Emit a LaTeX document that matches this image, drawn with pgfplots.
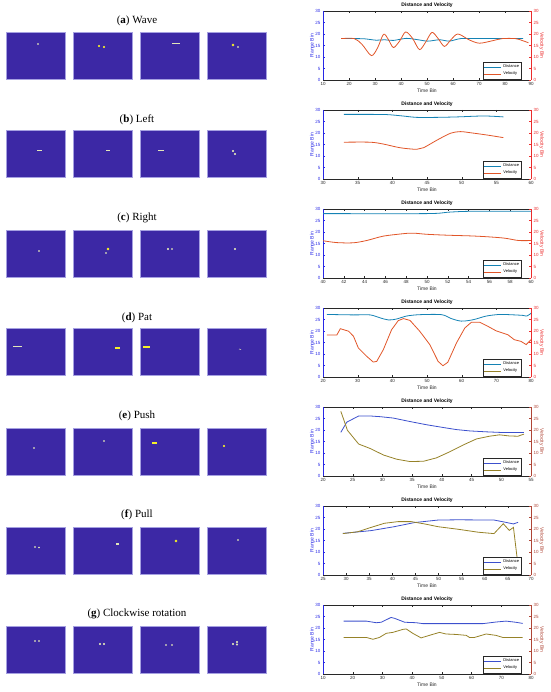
\documentclass[border=0pt]{standalone}
\usepackage{fontspec}
\setmainfont{Liberation Sans}
\newfontfamily\capfont{Liberation Serif}
\usepackage{pgfplots}
\pgfplotsset{compat=1.18}

\definecolor{parula}{RGB}{60,40,165}
\definecolor{frame}{RGB}{165,160,225}
\definecolor{spotY}{RGB}{245,240,40}
\definecolor{spotP}{RGB}{225,230,185}
\definecolor{leftcol}{RGB}{40,40,230}
\definecolor{redcol}{RGB}{235,45,45}
\definecolor{darkred}{RGB}{175,70,55}
\definecolor{distA}{RGB}{20,130,180}
\definecolor{velA}{RGB}{225,85,40}
\definecolor{distB}{RGB}{60,80,205}
\definecolor{velB}{RGB}{150,130,40}
\definecolor{axgray}{RGB}{40,40,40}

\pgfplotsset{
  heatax/.style={scale only axis, width=59pt, height=47pt, anchor=north west,
    xmin=0, xmax=59, ymin=0, ymax=47, y dir=reverse,
    xtick=\empty, ytick=\empty,
    axis background/.style={fill=parula},
    axis line style={draw=frame, line width=0.6pt}},
  big/.style={only marks, mark=*, mark size=1.2pt, color=spotY},
  dot/.style={only marks, mark=*, mark size=0.6pt, color=spotP},
  dash/.style={no marks, line width=1pt, color=spotP},
  base/.style={scale only axis, width=208pt, height=69pt, anchor=south west,
    ymin=0, ymax=30, ytick={0,5,...,30}, xtick distance=#1,
    tick align=inside, major tick length=2pt,
    /pgf/number format/assume math mode=true,
    ticklabel style={font=\fontsize{4.5}{5}\selectfont},
    label style={font=\fontsize{5}{6}\selectfont},
    axis line style={line width=0.3pt},
    every tick/.style={line width=0.3pt},
    x axis line style={axgray}, xtick style={axgray},
    xticklabel style={text=axgray, yshift=1pt}},
  leftax/.style={base=#1, axis y line*=left,
    xlabel={Time Bin}, ylabel={Range Bin},
    xlabel style={yshift=4pt, text=axgray},
    ylabel style={yshift=-6pt, text=leftcol},
    y axis line style={leftcol}, ytick style={leftcol},
    yticklabel style={text=leftcol, xshift=1pt},
    title={\textbf{Distance and Velocity}},
    title style={font=\fontsize{5}{6}\selectfont, yshift=-6.5pt}},
  rightax/.style={base=#1, axis y line*=right, axis x line=none,
    ylabel={Velocity Bin},
    legend style={at={(0.955,0.015)}, anchor=south east,
      font=\fontsize{4}{4.5}\selectfont, inner sep=0.5pt,
      row sep=-1.5pt, draw=axgray, line width=0.3pt},
    legend cell align=left},
  rcol/.style={y axis line style={#1}, ytick style={#1},
    yticklabel style={text=#1, xshift=-1pt},
    ylabel style={text=#1, rotate=180, yshift=-6pt}},
}

\newcommand{\heat}[3]{%
  \begin{axis}[heatax, at={(#1pt,-#2pt)}]
  #3
  \end{axis}}
\newcommand{\rowcap}[2]{\node[font=\capfont\fontsize{11}{13}\selectfont] at (137pt,-#1pt) {#2};}

\begin{document}
\begin{tikzpicture}[x=1pt,y=1pt]
\useasboundingbox (0,0) rectangle (550,-692);

% ---------- captions ----------
\rowcap{21}{(\textbf{a}) Wave}
\rowcap{120}{(\textbf{b}) Left}
\rowcap{218}{(\textbf{c}) Right}
\rowcap{318}{(\textbf{d}) Pat}
\rowcap{416}{(\textbf{e}) Push}
\rowcap{515}{(\textbf{f}) Pull}
\rowcap{614}{(\textbf{g}) Clockwise rotation}

% ---------- range-doppler snapshots ----------
% (a)
\heat{6}{32}{\addplot[dot] coordinates {(32,12)};}
\heat{73}{32}{\addplot[dot, mark size=0.8pt, color=spotY] coordinates {(26,14)(31,15)};}
\heat{140}{32}{\addplot[dash] coordinates {(32,12)(40,12)};}
\heat{207}{32}{\addplot[big] coordinates {(26,13)}; \addplot[dot] coordinates {(31,15)};}
% (b)
\heat{6}{130}{\addplot[dash] coordinates {(31,20)(36,20)};}
\heat{73}{130}{\addplot[dash] coordinates {(33,20)(37,20)};}
\heat{140}{130}{\addplot[dash] coordinates {(18,20)(24,20)};}
\heat{207}{130}{\addplot[dot, mark size=0.8pt] coordinates {(26,21)(28,24)};}
% (c)
\heat{6}{230}{\addplot[dot] coordinates {(33,21)};}
\heat{73}{230}{\addplot[big, mark size=1pt] coordinates {(35,19)}; \addplot[dot] coordinates {(33,23)};}
\heat{140}{230}{\addplot[dot, mark size=0.8pt] coordinates {(28,19)}; \addplot[dot] coordinates {(32,19)};}
\heat{207}{230}{\addplot[dot, mark size=0.8pt] coordinates {(28,19)};}
% (d)
\heat{6}{328}{\addplot[dash] coordinates {(7,18)(16,18)};}
\heat{73}{328}{\addplot[dash, color=spotY, line width=1.3pt] coordinates {(42,20)(47,20)};}
\heat{140}{328}{\addplot[dash, color=spotY, line width=1.3pt] coordinates {(3,19)(10,19)};}
\heat{207}{328}{\addplot[dash, line width=0.6pt] coordinates {(32,21)(34,21.5)};}
% (e)
\heat{6}{428}{\addplot[dot] coordinates {(28,20)};}
\heat{73}{428}{\addplot[dot] coordinates {(31,13)};}
\heat{140}{428}{\addplot[dash, color=spotY, line width=1.6pt] coordinates {(12,15)(17,15)};}
\heat{207}{428}{\addplot[big, mark size=0.9pt] coordinates {(17,18)};}
% (f)
\heat{6}{527}{\addplot[dot] coordinates {(29,20)(33,20.5)};}
\heat{73}{527}{\addplot[dash, line width=1.2pt] coordinates {(43,17)(46,17)};}
\heat{140}{527}{\addplot[big] coordinates {(36,14)};}
\heat{207}{527}{\addplot[dot] coordinates {(31,13)};}
% (g)
\heat{6}{626}{\addplot[dot] coordinates {(29,15)(33,15)};}
\heat{73}{626}{\addplot[dot, mark size=0.8pt] coordinates {(27,18)(31,18)};}
\heat{140}{626}{\addplot[dot] coordinates {(26,19)(32,19)};}
\heat{207}{626}{\addplot[dot, mark size=0.8pt] coordinates {(26,18)(30,16)(30,18.5)};}

% ---------- (a) Wave ----------
\begin{axis}[leftax=10, at={(323pt,-80pt)}, xmin=10, xmax=90]
\addplot[distA, line width=0.8pt, smooth] coordinates {
 (17,18)(22,18)(26,17.9)(30.5,17.3)(33.7,17.5)(37,17.2)(42,18.1)(46,17.6)
 (50.3,16.9)(54.8,17.5)(58.6,16.9)(63,18)(70,18)(80,18)(87,18)};
\end{axis}
\begin{axis}[rightax=10, rcol=redcol, at={(323pt,-80pt)}, xmin=10, xmax=90]
\addlegendimage{distA, line width=0.8pt}
\addplot[velA, line width=0.8pt, smooth] coordinates {
 (17,18)(22,18)(25,15.5)(28.6,10.6)(31,14)(33.3,19.9)(35.2,17.5)(37.1,14.1)
 (39.5,17)(41.8,20.9)(44.5,18)(47.1,13.2)(49.5,16.5)(51.9,20.7)(54.3,18)
 (56.7,14.6)(59.2,17.5)(61.9,20)(66.3,17.4)(70.2,16)(75.3,17.1)(79,18)
 (84,18)(86.8,17.1)(89,16.2)};
\legend{Distance,Velocity}
\end{axis}

% ---------- (b) Left ----------
\begin{axis}[leftax=5, at={(323pt,-179pt)}, xmin=30, xmax=60]
\addplot[distA, line width=0.8pt, smooth] coordinates {
 (33,28.1)(36,28.1)(39.2,28)(41.5,27.4)(43.5,26.8)(46.5,26.8)(49.4,27)(53.2,27.4)(56,27)};
\end{axis}
\begin{axis}[rightax=5, rcol=redcol, at={(323pt,-179pt)}, xmin=30, xmax=60]
\addlegendimage{distA, line width=0.8pt}
\addplot[velA, line width=0.8pt, smooth] coordinates {
 (33,16)(36.8,16)(38.7,15.2)(41.1,13.6)(43.5,12.9)(44.5,13.6)(46.5,17)
 (48.4,19.9)(49.8,20.6)(51.3,20.1)(53.7,19.1)(56,18)};
\legend{Distance,Velocity}
\end{axis}

% ---------- (c) Right ----------
\begin{axis}[leftax=2, at={(323pt,-278pt)}, xmin=40, xmax=60]
\addplot[distA, line width=0.8pt, smooth] coordinates {
 (40,28)(50,28)(52,28.6)(54.2,29)(60,29)};
\end{axis}
\begin{axis}[rightax=2, rcol=redcol, at={(323pt,-278pt)}, xmin=40, xmax=60]
\addlegendimage{distA, line width=0.8pt}
\addplot[velA, line width=0.8pt, smooth] coordinates {
 (40,16.2)(41.3,15.4)(42.9,15.3)(44.2,16.3)(45.8,18.2)(47.8,19.3)(48.7,19.5)
 (50,19)(52,18.6)(54.2,18.3)(55.9,17.9)(57.5,17.3)(58.8,16.3)(60,16.3)};
\legend{Distance,Velocity}
\end{axis}

% ---------- (d) Pat ----------
\begin{axis}[leftax=10, at={(323pt,-377pt)}, xmin=20, xmax=80]
\addplot[distA, line width=0.8pt, smooth] coordinates {
 (21.1,27.2)(28.8,27)(33.6,27)(36.5,25.7)(38.9,24.8)(41.2,25.2)(44.1,26.5)
 (47.9,27.1)(54.2,27.1)(57,25.4)(59.9,24.3)(63.3,24.9)(67.1,26.5)(70.9,27.2)
 (73.8,27.1)(77.6,26.8)(78.8,26.5)(80,27.7)};
\end{axis}
\begin{axis}[rightax=10, rcol=redcol, at={(323pt,-377pt)}, xmin=20, xmax=80]
\addlegendimage{distA, line width=0.8pt}
\addlegendimage{velB, line width=0.8pt}
\addplot[velA, line width=0.8pt, forget plot] coordinates {
 (21.1,18.3)(24,18.3)(25,21)(27.4,19.9)(28.8,17.7)(30.2,12.6)(32.6,9)
 (34.5,6.5)(35.5,6.8)(37.4,11.9)(39.8,20.6)(41.7,24.5)(43.2,25.4)(45.1,24.6)
 (47.9,19.9)(50.8,14.1)(53.2,6.8)(54.6,4.9)(56,6.4)(58.5,14.8)(60.9,21.3)
 (62.8,23.8)(65.2,23.8)(67.6,22)(69.9,20.1)(73.3,18.4)(75.2,16.2)(77.1,15.5)
 (78.6,14.1)(80,16.2)};
\legend{Distance,Velocity}
\end{axis}

% ---------- (e) Push ----------
\begin{axis}[leftax=5, at={(323pt,-476pt)}, xmin=20, xmax=55]
\addplot[distB, line width=0.8pt] coordinates {
 (23,19)(24,23.4)(26,26.1)(27.9,26.1)(29.6,25.8)(31.8,25.2)(34.6,23.7)
 (37.4,22.3)(40.2,21.1)(42.4,20.2)(44.7,19.6)(47.5,19.2)(50.3,18.9)(53.8,18.9)};
\end{axis}
\begin{axis}[rightax=5, rcol=darkred, at={(323pt,-476pt)}, xmin=20, xmax=55]
\addlegendimage{distB, line width=0.8pt}
\addplot[velB, line width=0.8pt] coordinates {
 (23,28.1)(23.6,23.7)(24.1,19.9)(26,13.9)(27.9,12)(30.2,9.1)(32.4,7.3)
 (34.6,6.3)(36.9,6.4)(39.1,7.9)(41.3,10.5)(43.6,13.5)(45.8,16.1)(48,17.3)
 (49.7,17.9)(51.4,17.4)(52.8,17.3)(53.8,18.2)};
\legend{Distance,Velocity}
\end{axis}

% ---------- (f) Pull ----------
\begin{axis}[leftax=5, at={(323pt,-575pt)}, xmin=25, xmax=70]
\addplot[distB, line width=0.8pt] coordinates {
 (29.3,18.1)(35.4,19.3)(40.4,21)(44.8,22.8)(49.9,23.9)(54.2,24)(62,23.9)
 (64.3,23)(66.2,22.2)(67.2,22.9)};
\end{axis}
\begin{axis}[rightax=5, rcol=darkred, at={(323pt,-575pt)}, xmin=25, xmax=70]
\addlegendimage{distB, line width=0.8pt}
\addplot[velB, line width=0.8pt] coordinates {
 (29.3,18)(32.5,18.8)(35.4,20.7)(38.3,22.5)(41.2,23.2)(44.1,23.2)(47,22.2)
 (49.9,21)(54.2,19.9)(58.6,18.6)(62,18)(64,22.3)(65.3,19.4)(66.2,20.7)(67.2,4)};
\legend{Distance,Velocity}
\end{axis}

% ---------- (g) Clockwise rotation ----------
\begin{axis}[leftax=10, at={(323pt,-674pt)}, xmin=10, xmax=80]
\addplot[distB, line width=0.8pt] coordinates {
 (16.9,23)(24.6,23)(27.9,22.3)(29.6,22.5)(32.9,24.6)(34.1,24.2)(37.5,22.5)
 (41.4,22.3)(43.6,21.9)(48.1,21.9)(63.8,21.9)(68.2,22.6)(71.6,23)(74.9,22.5)(77.2,22)};
\end{axis}
\begin{axis}[rightax=10, rcol=darkred, at={(323pt,-674pt)}, xmin=10, xmax=80]
\addlegendimage{distB, line width=0.8pt}
\addplot[velB, line width=0.8pt] coordinates {
 (16.9,15.9)(24.6,15.9)(26.8,15.1)(29,15.9)(31.3,17.7)(33.5,18.1)(36.9,19.4)
 (38,19.6)(40.2,17.7)(43,15.7)(45.8,16.8)(49.2,18.1)(51.4,17.4)(54.8,17.2)
 (58.2,16.8)(59.3,15.9)(61,15.9)(64.9,17.4)(68.2,16.8)(70.5,15.9)(77.2,15.9)};
\legend{Distance,Velocity}
\end{axis}
\end{tikzpicture}
\end{document}
